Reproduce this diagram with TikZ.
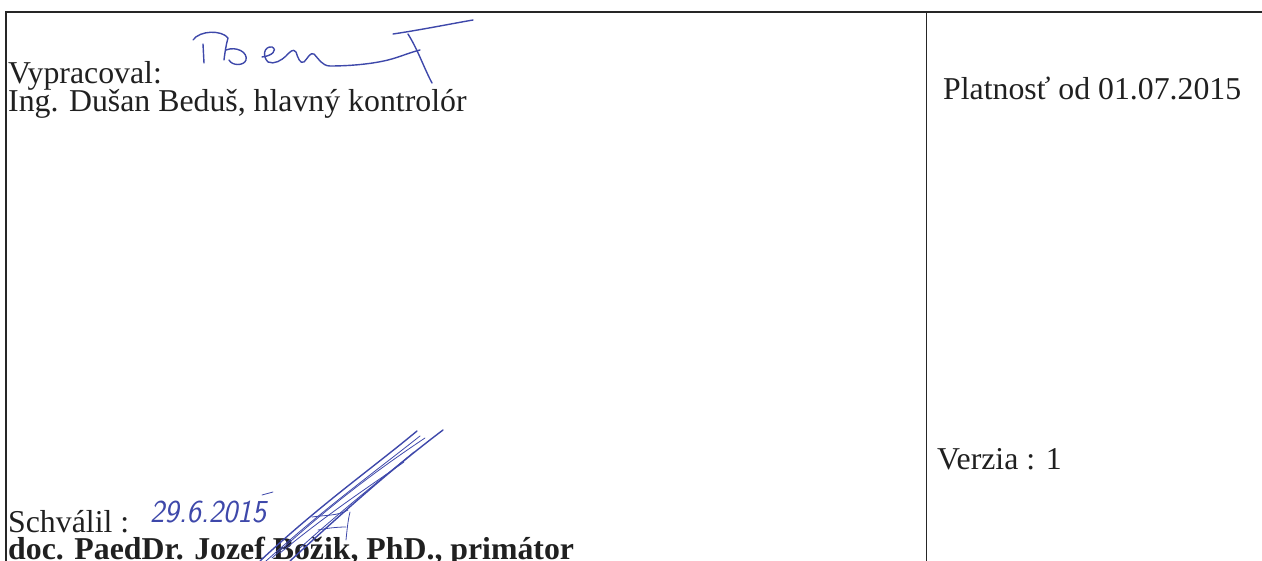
\documentclass[tikz,border=0pt]{standalone}
\usepackage{fontspec}
\setmainfont{Liberation Serif}
\usetikzlibrary{calc}
\definecolor{inkblue}{RGB}{62,72,170}
\definecolor{printed}{RGB}{32,32,32}

\begin{document}
\begin{tikzpicture}[x=1pt,y=-1pt]
\tikzset{
celltext/.style = {anchor=base west,inner sep=0pt,text=printed,font=\fontsize{31.8}{34}\selectfont},
boldtext/.style = {celltext,font=\fontsize{31.8}{34}\selectfont\bfseries},
handdate/.style = {anchor=base west,inner sep=0pt,text=inkblue,font=\fontsize{32}{34}\sffamily\itshape\selectfont,xscale=0.95},
ink/.style = {draw=inkblue,line width=1.4pt,line cap=round,line join=round},
inkthin/.style = {ink,line width=0.8pt},
rule/.style = {draw=black!85,line width=1.4pt},
}
\useasboundingbox (0,0) rectangle (1262,561);
%
% table frame
\coordinate (tl) at (6,12);
\coordinate (tm) at (926.5,12);
\coordinate (tr) at (1262,12);
\coordinate (bl) at (6,561);
\coordinate (bm) at (926.5,561);
\draw[rule] (tr) -- (tl) -- (bl);
\draw[rule] (tm) -- (bm);
%
% left cell
\node[celltext] (vyprac) at (8,84) {Vypracoval:};
\node[celltext] (kontrolor) at (8,112) {Ing. Dušan Beduš, hlavný kontrolór};
\node[celltext] (schvalil) at (8,532) {Schválil :};
\node[boldtext] (primator) at (8,559) {doc. PaedDr. Jozef Božik, PhD., primátor};
\node[handdate] (datum) at (150,522) {29.6.2015};
%
% right cell
\node[celltext] (platnost) at (943,100) {Platnosť od 01.07.2015};
\node[celltext] (verzia) at (937,469) {Verzia : 1};
%
% signature (Vypracoval)
\draw[ink] (203,44) -- (204,63);
\draw[ink] (193,40) .. controls (200,30) and (222,30) .. (228,38)
  .. controls (226,45) and (225,52) .. (224,60);
\draw[ink] (226,50) .. controls (236,46) and (248,52) .. (246,60)
  .. controls (244,66) and (232,66) .. (229,60);
\draw[ink] (262,57) .. controls (272,56) and (278,50) .. (272,47)
  .. controls (264,46) and (262,56) .. (268,62)
  .. controls (274,65) and (282,60) .. (286,56)
  .. controls (290,52) and (293,48) .. (296,52)
  .. controls (298,58) and (300,64) .. (304,62)
  .. controls (308,58) and (310,52) .. (314,54)
  .. controls (318,58) and (322,66) .. (330,66)
  .. controls (350,66) and (372,64) .. (388,60)
  .. controls (400,57) and (408,53) .. (420,50);
\draw[ink] (393,34) .. controls (420,30) and (450,24) .. (473,20);
\draw[ink] (408,34) .. controls (418,50) and (424,68) .. (432,83);
%
% signature (Schvalil)
\draw[inkthin] (262,495) -- (273,492);
\draw[ink] (260,561) .. controls (320,505) and (370,470) .. (417,431);
\draw[ink] (290,561) .. controls (340,515) and (390,470) .. (443,430);
\draw[inkthin] (272,558) .. controls (330,505) and (380,468) .. (425,438);
\draw[inkthin] (266,561) .. controls (325,508) and (372,474) .. (420,436);
\draw[inkthin] (300,548) .. controls (340,512) and (380,480) .. (414,452);
\draw[inkthin] (280,553) .. controls (330,512) and (370,486) .. (404,462);
\draw[inkthin] (312,517) .. controls (325,515) and (338,516) .. (348,510);
\draw[inkthin] (350,512) .. controls (348,520) and (347,530) .. (346,540);
\draw[inkthin] (318,530) .. controls (328,528) and (338,527) .. (346,527);
\end{tikzpicture}
\end{document}
